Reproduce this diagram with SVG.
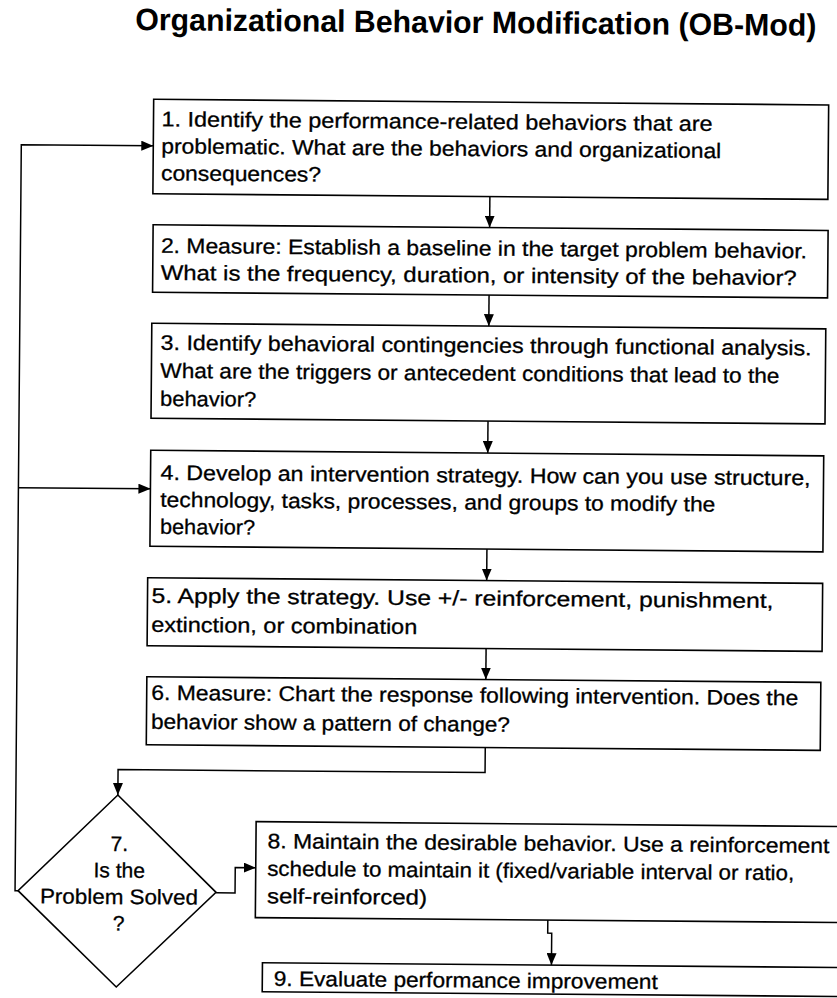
<svg xmlns="http://www.w3.org/2000/svg" width="837" height="998" viewBox="0 0 837 998">
<style>
.box{fill:#fff;stroke:#000;stroke-width:1.6}
.t{font-family:"Liberation Sans",Arial,sans-serif;font-size:21px;fill:#000;stroke:#000;stroke-width:0.3}
.c{text-anchor:middle}
.ln{fill:none;stroke:#000;stroke-width:1.5}
.title{font-family:"Liberation Sans",Arial,sans-serif;font-size:31px;font-weight:bold;fill:#000}
</style>
<defs>
<marker id="ah" markerUnits="userSpaceOnUse" markerWidth="12" markerHeight="10" refX="12" refY="5" orient="auto">
<path d="M0,0 L12,5 L0,10 z" fill="#000"/>
</marker>
</defs>
<rect width="837" height="998" fill="#fff"/>
<g transform="rotate(0.48 418 540)">
<text id="title" class="title" x="131" y="32.5" textLength="681" lengthAdjust="spacingAndGlyphs">Organizational Behavior Modification (OB-Mod)</text>

<g id="connectors">
<path class="ln" d="M21,894 L18,894 L18,148 L150,148" marker-end="url(#ah)"/>
<path class="ln" d="M18,491 L150,491" marker-end="url(#ah)"/>
<path class="ln" d="M487,196 L487,227" marker-end="url(#ah)"/>
<path class="ln" d="M487,294.5 L487,325.5" marker-end="url(#ah)"/>
<path class="ln" d="M487,420.5 L487,452.5" marker-end="url(#ah)"/>
<path class="ln" d="M487,548.5 L487,580" marker-end="url(#ah)"/>
<path class="ln" d="M487,648 L487,679" marker-end="url(#ah)"/>
<path class="ln" d="M487,747 L487,772 L120,772 L120,797.5" marker-end="url(#ah)"/>
<path class="ln" d="M219,894.5 L238,894.5 L238,869 L258.5,869" marker-end="url(#ah)"/>
<path class="ln" d="M551,919 L551,932 L555,932 L555,964" marker-end="url(#ah)"/>
</g>

<g id="n1">
<rect class="box" x="150" y="101.5" width="675" height="94.5"/>
<text class="t" x="158" y="128.5" textLength="551" lengthAdjust="spacingAndGlyphs">1. Identify the performance-related behaviors that are</text>
<text class="t" x="158" y="155.5" textLength="560" lengthAdjust="spacingAndGlyphs">problematic. What are the behaviors and organizational</text>
<text class="t" x="158" y="182.5" textLength="160" lengthAdjust="spacingAndGlyphs">consequences?</text>
</g>
<g id="n2">
<rect class="box" x="150.5" y="227" width="675" height="67.5"/>
<text class="t" x="158.5" y="255" textLength="646" lengthAdjust="spacingAndGlyphs">2. Measure: Establish a baseline in the target problem behavior.</text>
<text class="t" x="158.5" y="282" textLength="636" lengthAdjust="spacingAndGlyphs">What is the frequency, duration, or intensity of the behavior?</text>
</g>
<g id="n3">
<rect class="box" x="150" y="325.5" width="674" height="95"/>
<text class="t" x="159" y="352" textLength="651" lengthAdjust="spacingAndGlyphs">3. Identify behavioral contingencies through functional analysis.</text>
<text class="t" x="159" y="380" textLength="619" lengthAdjust="spacingAndGlyphs">What are the triggers or antecedent conditions that lead to the</text>
<text class="t" x="159" y="408" textLength="96" lengthAdjust="spacingAndGlyphs">behavior?</text>
</g>
<g id="n4">
<rect class="box" x="150" y="452.5" width="673" height="96"/>
<text class="t" x="160" y="482" textLength="650" lengthAdjust="spacingAndGlyphs">4. Develop an intervention strategy. How can you use structure,</text>
<text class="t" x="160" y="509" textLength="555" lengthAdjust="spacingAndGlyphs">technology, tasks, processes, and groups to modify the</text>
<text class="t" x="160" y="536" textLength="95" lengthAdjust="spacingAndGlyphs">behavior?</text>
</g>
<g id="n5">
<rect class="box" x="148" y="580" width="675" height="68"/>
<text class="t" x="152" y="605" textLength="622" lengthAdjust="spacingAndGlyphs">5. Apply the strategy. Use +/- reinforcement, punishment,</text>
<text class="t" x="152" y="634" textLength="266" lengthAdjust="spacingAndGlyphs">extinction, or combination</text>
</g>
<g id="n6">
<rect class="box" x="148" y="679" width="674" height="68"/>
<text class="t" x="152.5" y="702" textLength="647" lengthAdjust="spacingAndGlyphs">6. Measure: Chart the response following intervention. Does the</text>
<text class="t" x="152.5" y="731" textLength="359" lengthAdjust="spacingAndGlyphs">behavior show a pattern of change?</text>
</g>
<g id="n7">
<path class="box" d="M120,797.5 L219,894 L120,989.5 L21,894 z"/>
<text class="t c" x="122" y="853.5">7.</text>
<text class="t c" x="122" y="880">Is the</text>
<text class="t c" x="122" y="906.5" textLength="158" lengthAdjust="spacingAndGlyphs">Problem Solved</text>
<text class="t c" x="122" y="933">?</text>
</g>
<g id="n8">
<rect class="box" x="258.5" y="823" width="600" height="96"/>
<text class="t" x="270" y="849.5" textLength="562" lengthAdjust="spacingAndGlyphs">8. Maintain the desirable behavior. Use a reinforcement</text>
<text class="t" x="270" y="877" textLength="527" lengthAdjust="spacingAndGlyphs">schedule to maintain it (fixed/variable interval or ratio,</text>
<text class="t" x="270" y="904.5" textLength="160" lengthAdjust="spacingAndGlyphs">self-reinforced)</text>
</g>
<g id="n9">
<rect class="box" x="266" y="964" width="600" height="29"/>
<text class="t" x="277.5" y="987" textLength="384" lengthAdjust="spacingAndGlyphs">9. Evaluate performance improvement</text>
</g>
</g>
</svg>
